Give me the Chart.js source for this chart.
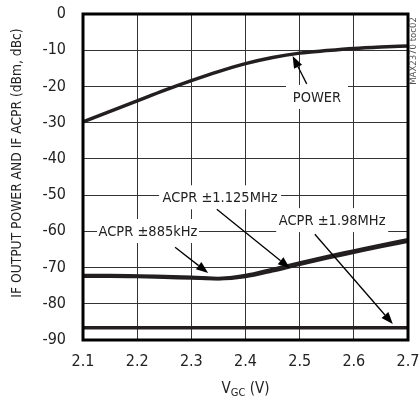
<!DOCTYPE html>
<html>
<head>
<meta charset="utf-8">
<script src="https://cdn.jsdelivr.net/npm/chart.js@4.4.1/dist/chart.umd.min.js"></script>
<style>
  html, body { margin: 0; padding: 0; background: #fff; }
</style>
</head>
<body>
<canvas id="chart" width="419" height="402"></canvas>
<script>
// gain-control voltage sweep (V)
const vgc = [2.1, 2.15, 2.2, 2.25, 2.3, 2.35, 2.4, 2.45, 2.5, 2.55, 2.6, 2.65, 2.7]
// IF output power (dBm)
const ifPower = [-29.8, -26.9, -24.0, -21.1, -18.4, -15.9, -13.7, -12.0, -10.8, -10.1, -9.5, -9.1, -8.8]
// IF ACPR (dBc) at the three offsets
const acpr885k = [-72.2, -72.2, -72.3, -72.5, -72.7, -73.0, -72.2, -70.5, -68.7, -67.0, -65.4, -63.8, -62.3]
const acpr1125k = [-72.4, -72.4, -72.5, -72.7, -72.9, -73.1, -72.5, -70.9, -69.1, -67.4, -65.8, -64.2, -62.7]
const acpr198M = [-86.6, -86.6, -86.6, -86.6, -86.6, -86.6, -86.6, -86.6, -86.6, -86.6, -86.6, -86.6, -86.6]

const yTicks = [0, -10, -20, -30, -40, -50, -60, -70, -80, -90]
const xTicks = [2.1, 2.2, 2.3, 2.4, 2.5, 2.6, 2.7]

const FONT = "'DejaVu Sans Condensed', 'DejaVu Sans', sans-serif"
const INK = '#231f20'
const TEXT = '#222'

// curve labels with leader arrows, in data units
const callouts = [
    { text: 'POWER', x: 2.532, y: -22.9, w: 62, from: [2.513, -19.3], to: [2.487, -11.6] },
    { text: 'ACPR \u00b11.125MHz', x: 2.353, y: -50.6, w: 122, from: [2.347, -53.9], to: [2.482, -70.2] },
    { text: 'ACPR \u00b1885kHz', x: 2.22, y: -59.9, w: 102, from: [2.270, -64.4], to: [2.331, -71.5] },
    { text: 'ACPR \u00b11.98MHz', x: 2.56, y: -56.9, w: 112, from: [2.528, -60.8], to: [2.672, -85.6] },
]

function series(values, width) {
    return {
        data: vgc.map((v, i) => ({ x: v, y: values[i] })),
        borderColor: INK,
        borderWidth: width,
        pointRadius: 0,
        cubicInterpolationMode: 'monotone',
        fill: false,
    }
}

function drawArrow(ctx, x0, y0, x1, y1) {
    const ang = Math.atan2(y1 - y0, x1 - x0)
    const len = 12
    const half = 4.5
    const bx = x1 - len * Math.cos(ang)
    const by = y1 - len * Math.sin(ang)
    ctx.beginPath()
    ctx.moveTo(x0, y0)
    ctx.lineTo(bx, by)
    ctx.lineWidth = 1.3
    ctx.strokeStyle = '#000'
    ctx.stroke()
    ctx.beginPath()
    ctx.moveTo(x1, y1)
    ctx.lineTo(bx + half * Math.sin(ang), by - half * Math.cos(ang))
    ctx.lineTo(bx - half * Math.sin(ang), by + half * Math.cos(ang))
    ctx.closePath()
    ctx.fillStyle = '#000'
    ctx.fill()
}

const decorations = {
    id: 'decorations',
    afterDatasetsDraw(chart) {
        const { ctx, chartArea: a, scales: { x, y } } = chart
        ctx.save()

        // labels and arrows
        ctx.font = `14.5px ${FONT}`
        ctx.textAlign = 'center'
        ctx.textBaseline = 'middle'
        callouts.forEach(c => {
            const cx = x.getPixelForValue(c.x)
            const cy = y.getPixelForValue(c.y)
            ctx.fillStyle = '#fff'
            ctx.fillRect(cx - c.w / 2, cy - 12, c.w, 24)
            ctx.fillStyle = TEXT
            ctx.fillText(c.text, cx, cy + 1)
            drawArrow(ctx,
                x.getPixelForValue(c.from[0]), y.getPixelForValue(c.from[1]),
                x.getPixelForValue(c.to[0]), y.getPixelForValue(c.to[1]))
        })

        // heavy frame
        ctx.lineWidth = 3
        ctx.strokeStyle = '#000'
        ctx.strokeRect(a.left, a.top, a.right - a.left, a.bottom - a.top)

        // x title with subscript
        const parts = [
            { t: 'V', size: 15, dy: 0 },
            { t: 'GC', size: 11, dy: 3 },
            { t: ' (V)', size: 15, dy: 0 },
        ]
        let total = 0
        parts.forEach(p => { ctx.font = `${p.size}px ${FONT}`; p.w = ctx.measureText(p.t).width; total += p.w })
        let px = (a.left + a.right) / 2 - total / 2
        ctx.textAlign = 'left'
        ctx.textBaseline = 'alphabetic'
        ctx.fillStyle = TEXT
        parts.forEach(p => {
            ctx.font = `${p.size}px ${FONT}`
            ctx.fillText(p.t, px, 393 + p.dy)
            px += p.w
        })

        // y title
        ctx.save()
        ctx.translate(17, 163)
        ctx.rotate(-Math.PI / 2)
        ctx.font = `13.7px ${FONT}`
        ctx.textAlign = 'center'
        ctx.textBaseline = 'middle'
        ctx.fillText('IF OUTPUT POWER AND IF ACPR (dBm, dBc)', 0, 0)
        ctx.restore()

        // figure tag
        ctx.translate(414, 51)
        ctx.rotate(-Math.PI / 2)
        ctx.font = `9.5px ${FONT}`
        ctx.textAlign = 'center'
        ctx.textBaseline = 'middle'
        ctx.fillStyle = '#555'
        ctx.fillText('MAX2370 toc02', 0, 0)

        ctx.restore()
    }
}

new Chart(document.getElementById('chart').getContext('2d'), {
    type: 'line',
    data: {
        datasets: [
            series(ifPower, 3.5),
            series(acpr885k, 3.5),
            series(acpr1125k, 3.5),
            series(acpr198M, 3.5),
        ]
    },
    options: {
        responsive: false,
        animation: false,
        events: [],
        layout: { padding: { top: 14, right: 11, left: 0, bottom: 0 } },
        plugins: { legend: { display: false }, tooltip: { enabled: false } },
        scales: {
            x: {
                type: 'linear',
                min: 2.1,
                max: 2.7,
                afterBuildTicks: s => { s.ticks = xTicks.map(v => ({ value: v })) },
                afterFit: s => { s.height = 62; s.paddingLeft = 0; s.paddingRight = 0 },
                border: { display: false },
                grid: { color: '#333', lineWidth: 1, drawTicks: false },
                ticks: {
                    padding: 12,
                    color: TEXT,
                    font: { family: FONT, size: 16 },
                    callback: v => v.toFixed(1),
                },
            },
            y: {
                type: 'linear',
                min: -90,
                max: 0,
                afterBuildTicks: s => { s.ticks = yTicks.map(v => ({ value: v })) },
                afterFit: s => { s.width = 83; s.paddingTop = 0; s.paddingBottom = 0 },
                border: { display: false },
                grid: { color: '#333', lineWidth: 1, drawTicks: false },
                ticks: {
                    padding: 17,
                    color: TEXT,
                    font: { family: FONT, size: 16 },
                },
            },
        },
    },
    plugins: [decorations],
})
</script>
</body>
</html>
